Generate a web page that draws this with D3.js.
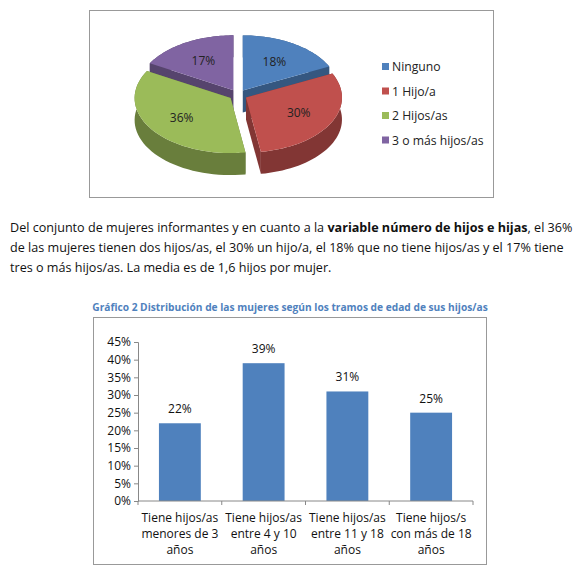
<!DOCTYPE html>
<html><head><meta charset="utf-8">
<script src="https://cdn.jsdelivr.net/npm/d3@7"></script>
<style>body{margin:0;background:#fff}svg{font-family:"Open Sans",Calibri,sans-serif}</style>
</head><body>
<svg id="c" width="588" height="578"></svg>
<script>
const pieLabels = ["Ninguno", "1 Hijo/a", "2 Hijos/as", "3 o más hijos/as"];
const pieValues = [18, 30, 36, 17];
const pieColors = ["#4f81bd", "#c0504d", "#9bbb59", "#8064a2"];
const barCategories = [["Tiene hijos/as", "menores de 3", "años"], ["Tiene hijos/as", "entre 4 y 10", "años"], ["Tiene hijos/as", "entre 11 y 18", "años"], ["Tiene hijos/s", "con más de 18", "años"]];
const barValues = [22, 39, 31, 25];
const yTicks = [0, 5, 10, 15, 20, 25, 30, 35, 40, 45];
const paragraph = [
  [["Del conjunto de mujeres informantes y en cuanto a la ", false], ["variable número de hijos e hijas", true], [", el 36%", false]],
  [["de las mujeres tienen dos hijos/as, el 30% un hijo/a, el 18% que no tiene hijos/as y el 17% tiene", false]],
  [["tres o más hijos/as. La media es de 1,6 hijos por mujer.", false]]
];

const svg = d3.select("#c");

// ---- pie (3D, exploded) ----
svg.append("rect").attr("x", 89.5).attr("y", 10.5).attr("width", 404).attr("height", 187)
  .attr("fill", "#fff").attr("stroke", "#999");
const cx = 238, cy = 95, rx = 96, ry = 55, depth = 22, explode = 9;
const arcs = d3.pie().sort(null).value(d => d)(pieValues);
const P = (a, r, dx, dy, dz) => [dx + cx + rx * r * Math.sin(a), dy + cy - ry * r * Math.cos(a) + dz];
const slices = arcs.map((a, i) => {
  const mid = (a.startAngle + a.endAngle) / 2;
  return { a, i, mid, dx: explode * Math.sin(mid), dy: explode * 0.6 * -Math.cos(mid) };
});
const line = d3.line();
function arcPts(s, z, rev) {
  const n = 40, pts = [];
  for (let k = 0; k <= n; k++) {
    const t = s.a.startAngle + (s.a.endAngle - s.a.startAngle) * k / n;
    pts.push(P(t, 1, s.dx, s.dy, z));
  }
  return rev ? pts.reverse() : pts;
}
const g = svg.append("g");
slices.slice().sort((p, q) => -Math.cos(p.mid) + Math.cos(q.mid)).forEach(s => {
  const dark = d3.color(pieColors[s.i]).darker(1.1);
  const c0 = P(0, 0, s.dx, s.dy, 0), c1 = P(0, 0, s.dx, s.dy, depth);
  [s.a.startAngle, s.a.endAngle].forEach(ang => {
    g.append("path").attr("fill", dark).attr("d", line([c0, P(ang, 1, s.dx, s.dy, 0), P(ang, 1, s.dx, s.dy, depth), c1]) + "Z");
  });
  g.append("path").attr("fill", dark)
    .attr("d", line(arcPts(s, 0, false).concat(arcPts(s, depth, true))) + "Z");
});
slices.forEach(s => {
  g.append("path").attr("fill", pieColors[s.i])
    .attr("d", line([P(0, 0, s.dx, s.dy, 0)].concat(arcPts(s, 0, false))) + "Z");
  const lp = P(s.mid, 0.62, s.dx, s.dy, 0);
  g.append("text").attr("x", lp[0]).attr("y", lp[1] + 4).attr("text-anchor", "middle")
    .attr("font-size", 12).attr("fill", "#222").text(pieValues[s.i] + "%");
});
pieLabels.forEach((l, i) => {
  const y = 67 + i * 24.5;
  svg.append("rect").attr("x", 382).attr("y", y - 4).attr("width", 7).attr("height", 7).attr("fill", pieColors[i]);
  svg.append("text").attr("x", 392).attr("y", y + 4).attr("font-size", 12.2).attr("fill", "#222").text(l);
});

// ---- paragraph ----
paragraph.forEach((ln, i) => {
  const t = svg.append("text").attr("x", 10).attr("y", 232 + i * 20).attr("font-size", 12.6).attr("fill", "#111");
  ln.forEach(([s, b]) => t.append("tspan").attr("font-weight", b ? "bold" : null).text(s));
});

// ---- bar chart ----
svg.append("text").attr("x", 290).attr("y", 311).attr("text-anchor", "middle").attr("font-size", 10.2)
  .attr("font-weight", "bold").attr("fill", "#4f81bd").text("Gráfico 2 Distribución de las mujeres según los tramos de edad de sus hijos/as");
svg.append("rect").attr("x", 93.5).attr("y", 317.5).attr("width", 393).attr("height", 247)
  .attr("fill", "#fff").attr("stroke", "#999");
const x = d3.scaleBand().domain(d3.range(barValues.length)).range([138, 473]).paddingInner(0.5).paddingOuter(0.25);
const y = d3.scaleLinear().domain([0, 45]).range([501, 342]);
svg.selectAll(".bar").data(barValues).join("rect")
  .attr("x", (d, i) => x(i)).attr("width", x.bandwidth()).attr("y", d => y(d)).attr("height", d => y(0) - y(d))
  .attr("fill", "#4f81bd");
svg.selectAll(".bl").data(barValues).join("text")
  .attr("x", (d, i) => x(i) + x.bandwidth() / 2).attr("y", d => y(d) - 10).attr("text-anchor", "middle")
  .attr("font-size", 12).attr("fill", "#111").text(d => d + "%");
const ya = svg.append("g").attr("transform", "translate(138,0)")
  .call(d3.axisLeft(y).tickValues(yTicks).tickSize(4).tickFormat(d => d + "%"));
ya.selectAll("text").attr("font-size", 12).attr("fill", "#111").attr("font-family", "Open Sans");
ya.selectAll("path,line").attr("stroke", "#888");
const xa = svg.append("g").attr("transform", "translate(0,501)");
xa.append("line").attr("x1", 138).attr("x2", 473).attr("stroke", "#888");
d3.range(5).forEach(k => xa.append("line").attr("x1", 138 + k * (335 / 4)).attr("x2", 138 + k * (335 / 4)).attr("y2", 4).attr("stroke", "#888"));
barCategories.forEach((c, i) => {
  const t = svg.append("text").attr("text-anchor", "middle").attr("font-size", 12).attr("fill", "#111");
  c.forEach((s, j) => t.append("tspan").attr("x", x(i) + x.bandwidth() / 2).attr("y", 522 + j * 16).text(s));
});
</script>
</body></html>
